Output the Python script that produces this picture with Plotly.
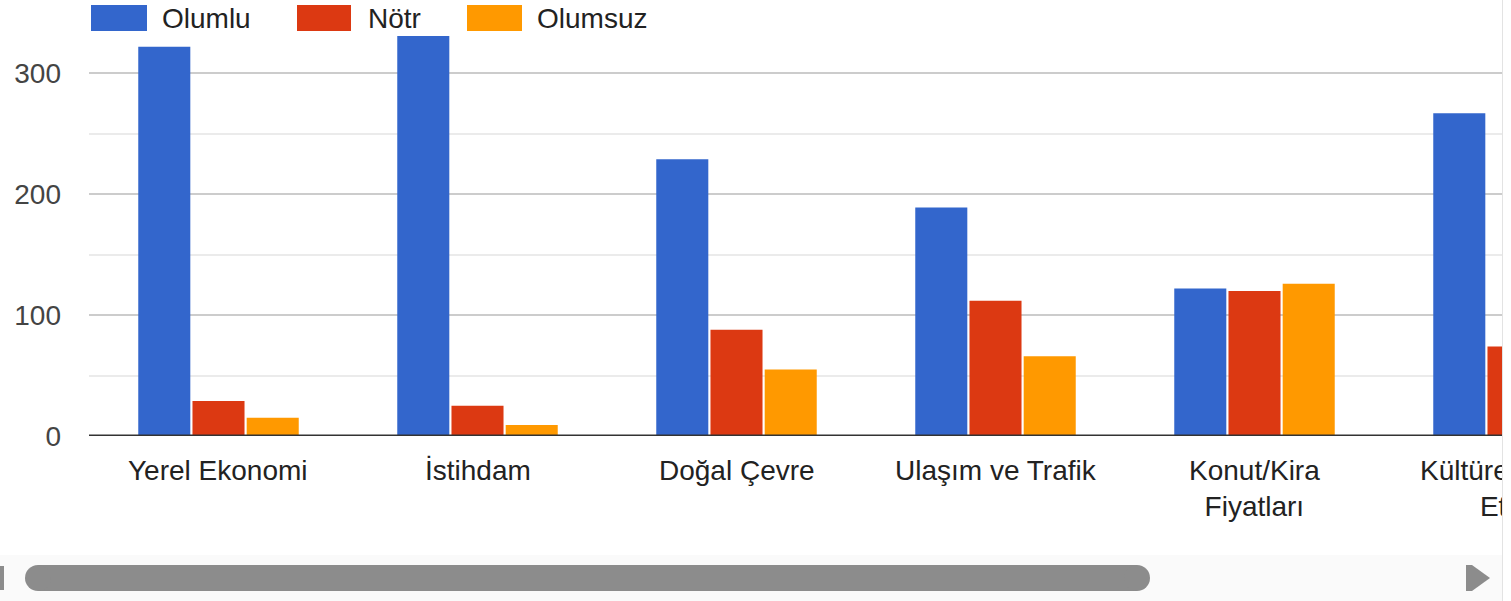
import plotly.graph_objects as go

# ---- data ----
categories = ["Yerel Ekonomi", "İstihdam", "Doğal Çevre", "Ulaşım ve Trafik",
              "Konut/Kira<br>Fiyatları", "Kültürel Mirasa<br>Etkisi"]
series_names = ["Olumlu", "Nötr", "Olumsuz"]
olumlu = [322, 331, 229, 189, 122, 267]
notr = [29, 25, 88, 112, 120, 74]
olumsuz = [15, 9, 55, 66, 126, 40]
y_ticks = [0, 100, 200, 300]
y_tick_labels = ["0", "100", "200", "300"]

# ---- style ----
colors = ["#3366cc", "#dc3912", "#ff9900"]
FONT = "Liberation Sans, Arial, sans-serif"
W, H = 1511, 601
L, R, T, B = 89, 1502, 13, 436          # plot area in pixels
CAT_PX = 259                            # pixels per category
X_RANGE = [-0.5, -0.5 + (R - L) / CAT_PX]
Y_RANGE = [0, 350]


def px(x):
    return (x - L) / (R - L)


def py(y):
    return (B - y) / (B - T)


def cat_paper(i):
    return (i - X_RANGE[0]) / (X_RANGE[1] - X_RANGE[0])


idx = list(range(len(categories)))
fig = go.Figure()
for name, vals, col in zip(series_names, [olumlu, notr, olumsuz], colors):
    fig.add_trace(go.Bar(x=idx, y=vals, name=name, marker=dict(color=col, line=dict(width=0)),
                         hoverinfo="y+name"))

shapes = []
annotations = []

# baseline
shapes.append(dict(type="line", xref="paper", yref="y", x0=0, x1=1, y0=0, y1=0,
                   line=dict(color="#333333", width=3), layer="above"))

# category labels (annotations so the last one can be partially hidden)
for i, c in enumerate(categories):
    annotations.append(dict(xref="paper", yref="paper", x=cat_paper(i), y=0,
                            yanchor="top", xanchor="center", yshift=-17, text=c,
                            showarrow=False, align="center",
                            font=dict(family=FONT, size=28, color="#222222")))

# custom legend
leg = [(91, 147, 160), (297, 351, 366), (467, 522, 535)]
for (x0, x1, tx), name, col in zip(leg, series_names, colors):
    shapes.append(dict(type="rect", xref="paper", yref="paper", x0=px(x0), x1=px(x1),
                       y0=py(31), y1=py(5), fillcolor=col, line=dict(width=0), layer="above"))
    annotations.append(dict(xref="paper", yref="paper", x=px(tx), y=py(18), xanchor="left",
                            yanchor="middle", text=name, showarrow=False,
                            font=dict(family=FONT, size=28, color="#222222")))

# scrollbar
shapes.append(dict(type="rect", xref="paper", yref="paper", x0=px(0), x1=px(1511),
                   y0=py(601), y1=py(555), fillcolor="#fafafa", line=dict(width=0), layer="above"))
thumb = "#8c8c8c"
shapes.append(dict(type="rect", xref="paper", yref="paper", x0=px(38), x1=px(1137),
                   y0=py(591), y1=py(565), fillcolor=thumb, line=dict(width=0), layer="above"))
for cx0 in (25, 1124):
    shapes.append(dict(type="circle", xref="paper", yref="paper", x0=px(cx0), x1=px(cx0 + 26),
                       y0=py(591), y1=py(565), fillcolor=thumb, line=dict(width=0), layer="above"))
shapes.append(dict(type="rect", xref="paper", yref="paper", x0=px(0), x1=px(4),
                   y0=py(590), y1=py(566), fillcolor=thumb, line=dict(width=0), layer="above"))
arrow = "M {a},{b} L {c},{b} L {d},{e} L {c},{f} L {a},{f} Z".format(
    a=px(1466), c=px(1472), d=px(1490), b=py(565), e=py(578), f=py(591))
shapes.append(dict(type="path", xref="paper", yref="paper", path=arrow,
                   fillcolor=thumb, line=dict(width=0), layer="above"))

# right edge cover (hides overflow of last label) with grey border line
annotations.append(dict(xref="paper", yref="paper", x=px(1502), y=py(300), xanchor="left",
                        yanchor="middle", text=" ", showarrow=False, width=40, height=640,
                        bgcolor="white", bordercolor="#e3e3e3", borderwidth=1, borderpad=0))

fig.update_layout(
    width=W, height=H, autosize=False,
    margin=dict(l=L, r=W - R, t=T, b=H - B, pad=0),
    paper_bgcolor="white", plot_bgcolor="white",
    barmode="group", bargap=0.372, bargroupgap=0.04,
    showlegend=False,
    font=dict(family=FONT, size=28, color="#444444"),
    xaxis=dict(range=X_RANGE, showticklabels=False, showgrid=False, zeroline=False,
               showline=False, ticks="", fixedrange=True),
    yaxis=dict(range=Y_RANGE, tickmode="array", tickvals=y_ticks, ticktext=y_tick_labels,
               showgrid=True, gridcolor="#cccccc", gridwidth=2, zeroline=False,
               showline=False, ticks="", ticklabelstandoff=27,
               tickfont=dict(family=FONT, size=28, color="#444444"),
               minor=dict(tickmode="linear", tick0=0, dtick=50, showgrid=True,
                          gridcolor="#ebebeb", gridwidth=2, ticks=""),
               fixedrange=True),
    shapes=shapes, annotations=annotations,
)

fig.write_html("out.html",
               config={"displayModeBar": False},
               post_script="document.body.style.margin='0';document.body.style.overflow='hidden';")
